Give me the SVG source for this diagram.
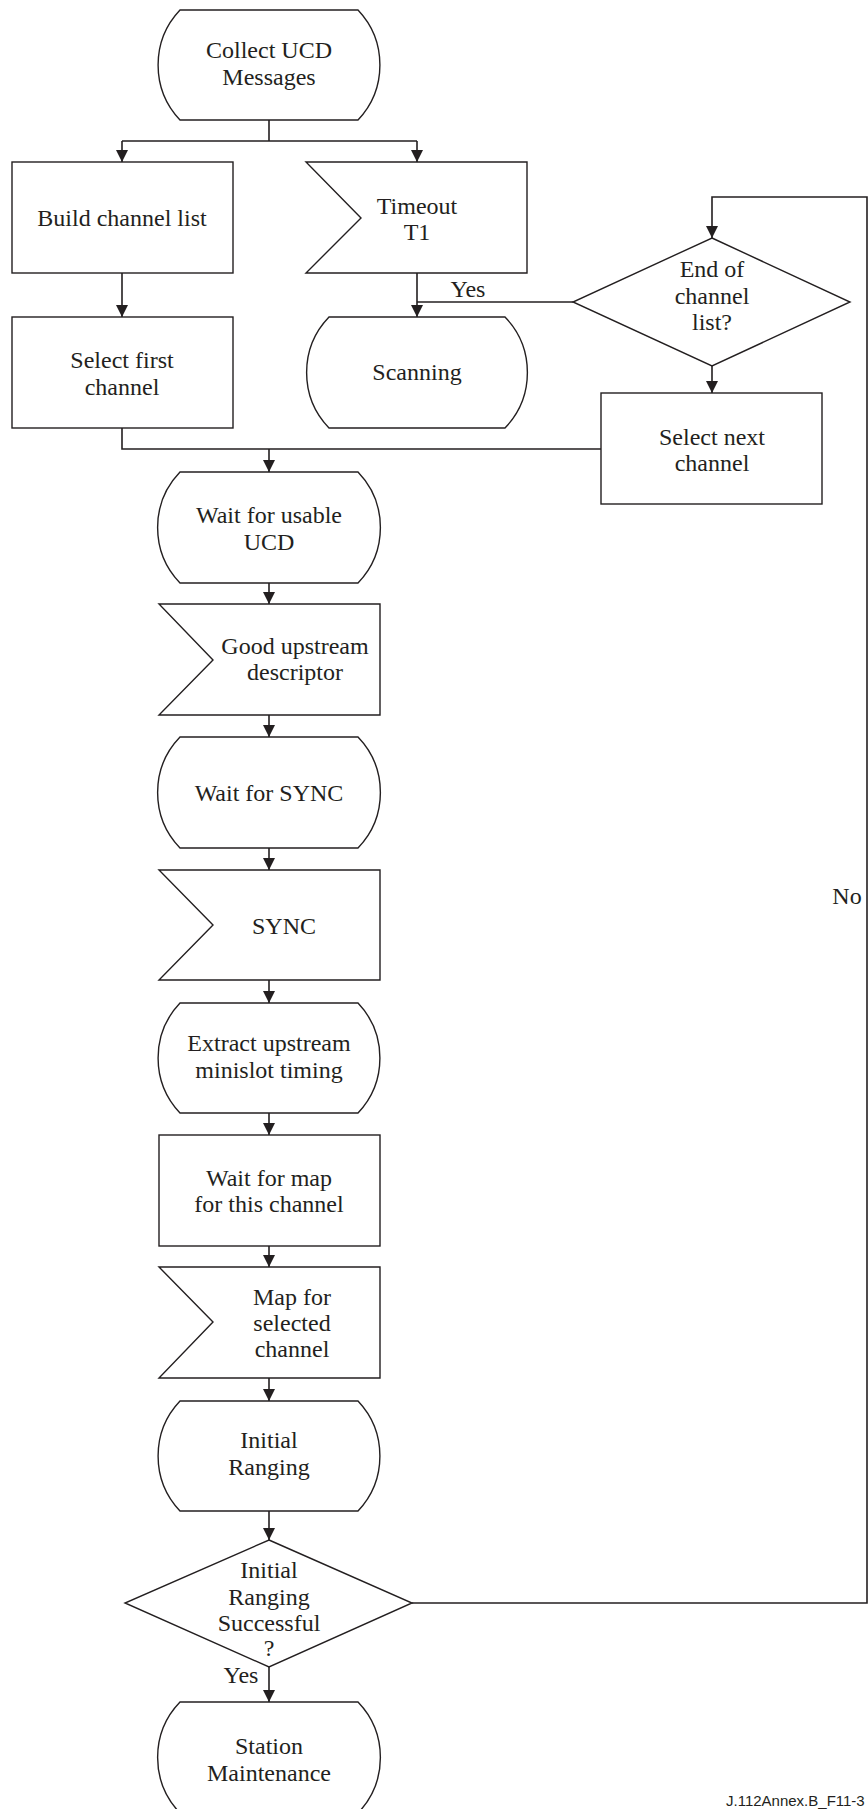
<svg xmlns="http://www.w3.org/2000/svg" width="868" height="1809" viewBox="0 0 868 1809">
<style>
.s{fill:#fff;stroke:#231f20;stroke-width:1.4}
.c{fill:none;stroke:#231f20;stroke-width:1.6}
.t{font-family:"Liberation Serif","Times New Roman",serif;font-size:24px;fill:#231f20;text-anchor:middle}
.f{font-family:"Liberation Sans",Arial,sans-serif;font-size:15px;fill:#231f20}
</style>
<defs>
<marker id="a" markerUnits="userSpaceOnUse" markerWidth="12" markerHeight="14" refX="12" refY="6" orient="auto" viewBox="0 0 12 12">
<path d="M0,0 L12,6 L0,12 Z" fill="#231f20"/>
</marker>
</defs>
<rect width="868" height="1809" fill="#fff"/>
<g id="connectors">
<path class="c" d="M269,120 V141 M122,141 H417"/>
<path class="c" d="M122,141 V162" marker-end="url(#a)"/>
<path class="c" d="M417,141 V162" marker-end="url(#a)"/>
<path class="c" d="M122,273 V317" marker-end="url(#a)"/>
<path class="c" d="M417,273 V317" marker-end="url(#a)"/>
<path class="c" d="M573,302 H417"/>
<path class="c" d="M412,1603 H867 V197 H712 V238" marker-end="url(#a)"/>
<path class="c" d="M712,366 V393" marker-end="url(#a)"/>
<path class="c" d="M122,428 V449 H601"/>
<path class="c" d="M269,449 V472" marker-end="url(#a)"/>
<path class="c" d="M269,583 V604" marker-end="url(#a)"/>
<path class="c" d="M269,715 V737" marker-end="url(#a)"/>
<path class="c" d="M269,848 V870" marker-end="url(#a)"/>
<path class="c" d="M269,980 V1003" marker-end="url(#a)"/>
<path class="c" d="M269,1113 V1135" marker-end="url(#a)"/>
<path class="c" d="M269,1246 V1267" marker-end="url(#a)"/>
<path class="c" d="M269,1378 V1401" marker-end="url(#a)"/>
<path class="c" d="M269,1511 V1540" marker-end="url(#a)"/>
<path class="c" d="M269,1667 V1702" marker-end="url(#a)"/>
<text class="t" x="468" y="297">Yes</text>
<text class="t" x="241" y="1683">Yes</text>
<text class="t" x="847" y="904">No</text>
</g>
<g id="collect">
<path class="s" d="M180,10 H358 A80,80 0 0 1 358,120 H180 A80,80 0 0 1 180,10 Z"/>
<text class="t" x="269" y="58">Collect UCD</text>
<text class="t" x="269" y="85">Messages</text>
</g>
<g id="build">
<rect class="s" x="12" y="162" width="221" height="111"/>
<text class="t" x="122" y="226">Build channel list</text>
</g>
<g id="timeout">
<path class="s" d="M306,162 H527 V273 H306 L361,218 Z"/>
<text class="t" x="417" y="214">Timeout</text>
<text class="t" x="417" y="240">T1</text>
</g>
<g id="selectfirst">
<rect class="s" x="12" y="317" width="221" height="111"/>
<text class="t" x="122" y="368">Select first</text>
<text class="t" x="122" y="395">channel</text>
</g>
<g id="scanning">
<path class="s" d="M329,317 H505 A80,80 0 0 1 505,428 H329 A80,80 0 0 1 329,317 Z"/>
<text class="t" x="417" y="380">Scanning</text>
</g>
<g id="endlist">
<path class="s" d="M712,238 L850,302 L712,366 L573,302 Z"/>
<text class="t" x="712" y="277">End of</text>
<text class="t" x="712" y="304">channel</text>
<text class="t" x="712" y="330">list?</text>
</g>
<g id="selectnext">
<rect class="s" x="601" y="393" width="221" height="111"/>
<text class="t" x="712" y="445">Select next</text>
<text class="t" x="712" y="471">channel</text>
</g>
<g id="waitucd">
<path class="s" d="M180,472 H358 A80,80 0 0 1 358,583 H180 A80,80 0 0 1 180,472 Z"/>
<text class="t" x="269" y="523">Wait for usable</text>
<text class="t" x="269" y="550">UCD</text>
</g>
<g id="good">
<path class="s" d="M159,604 H380 V715 H159 L213,660 Z"/>
<text class="t" x="295" y="654">Good upstream</text>
<text class="t" x="295" y="680">descriptor</text>
</g>
<g id="waitsync">
<path class="s" d="M180,737 H358 A80,80 0 0 1 358,848 H180 A80,80 0 0 1 180,737 Z"/>
<text class="t" x="269" y="801">Wait for SYNC</text>
</g>
<g id="sync">
<path class="s" d="M159,870 H380 V980 H159 L213,925 Z"/>
<text class="t" x="284" y="934">SYNC</text>
</g>
<g id="extract">
<path class="s" d="M180,1003 H358 A80,80 0 0 1 358,1113 H180 A80,80 0 0 1 180,1003 Z"/>
<text class="t" x="269" y="1051">Extract upstream</text>
<text class="t" x="269" y="1078">minislot timing</text>
</g>
<g id="waitmap">
<rect class="s" x="159" y="1135" width="221" height="111"/>
<text class="t" x="269" y="1186">Wait for map</text>
<text class="t" x="269" y="1212">for this channel</text>
</g>
<g id="mapfor">
<path class="s" d="M159,1267 H380 V1378 H159 L213,1322 Z"/>
<text class="t" x="292" y="1305">Map for</text>
<text class="t" x="292" y="1331">selected</text>
<text class="t" x="292" y="1357">channel</text>
</g>
<g id="initial">
<path class="s" d="M180,1401 H358 A80,80 0 0 1 358,1511 H180 A80,80 0 0 1 180,1401 Z"/>
<text class="t" x="269" y="1448">Initial</text>
<text class="t" x="269" y="1475">Ranging</text>
</g>
<g id="success">
<path class="s" d="M269,1540 L412,1603 L269,1667 L125,1603 Z"/>
<text class="t" x="269" y="1578">Initial</text>
<text class="t" x="269" y="1605">Ranging</text>
<text class="t" x="269" y="1631">Successful</text>
<text class="t" x="269" y="1656">?</text>
</g>
<g id="station">
<path class="s" d="M180,1702 H358 A80,80 0 0 1 358,1813 H180 A80,80 0 0 1 180,1702 Z"/>
<text class="t" x="269" y="1754">Station</text>
<text class="t" x="269" y="1781">Maintenance</text>
</g>
<text class="f" x="726" y="1806">J.112Annex.B_F11-3</text>
</svg>
